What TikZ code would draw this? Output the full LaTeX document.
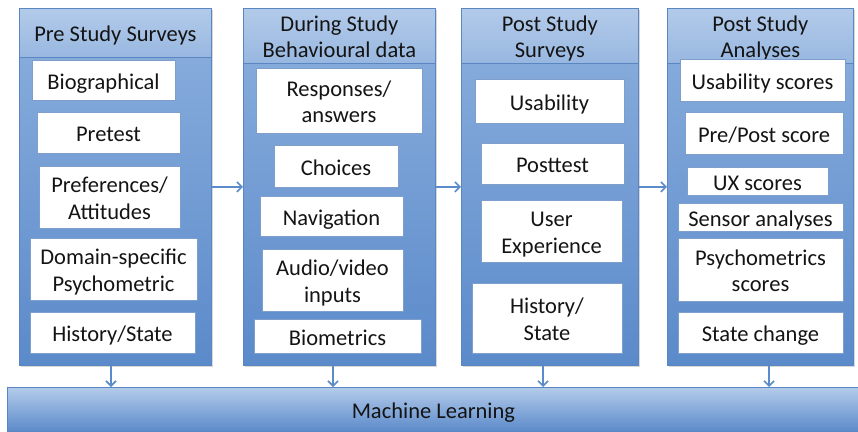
\documentclass[tikz,border=0pt]{standalone}
\usepackage{fontspec}
\setmainfont{Carlito}
\usetikzlibrary{arrows.meta,shadows}
\definecolor{colborder}{HTML}{5A86C2}
\definecolor{bodytop}{HTML}{8CB0DE}
\definecolor{bodybot}{HTML}{5B8ACA}
\definecolor{hdrtop}{HTML}{B3CBEA}
\definecolor{hdrbot}{HTML}{98B7E0}
\definecolor{boxborder}{HTML}{7E9FCB}
\definecolor{arrowcol}{HTML}{5B8BCB}
\definecolor{textcol}{HTML}{141414}
\newcommand\tstrut{\rule{0pt}{23pt}}
\newcommand\bstrut{\rule[-5pt]{0pt}{0pt}}
\begin{document}
\begin{tikzpicture}[x=1pt,y=-1pt,
  column/.style={draw=colborder, line width=0.8pt, top color=bodytop, bottom color=bodybot,
    anchor=north west, inner sep=0pt, minimum height=357,
    drop shadow={opacity=0.3, shadow xshift=1.5pt, shadow yshift=-1.5pt}},
  header/.style={draw=colborder, line width=0.8pt, top color=hdrtop, bottom color=hdrbot,
    anchor=north west, inner sep=0pt, minimum height=49, align=center, text=textcol,
    font=\fontsize{22.5}{26.5}\selectfont},
  ibox/.style={draw=boxborder, fill=white, line width=0.6pt, inner sep=0pt, align=center,
    text=textcol, font=\fontsize{22.5}{26.5}\selectfont,
    drop shadow={opacity=0.25, shadow xshift=1pt, shadow yshift=-1pt}},
  mlbar/.style={draw=colborder, line width=0.8pt, top color=hdrtop, bottom color=bodybot,
    anchor=north west, inner sep=0pt, text=textcol, font=\fontsize{22.5}{26.5}\selectfont},
  arr/.style={draw=arrowcol, line width=1.6pt, -{Straight Barb[length=5pt,width=10pt]}}
]
\useasboundingbox (0,0) rectangle (858,431);
\fill[white] (0,0) rectangle (858,431);

% columns
\node[column, minimum width=192] (c1) at (19,8) {};
\node[column, minimum width=192] (c2) at (243,8) {};
\node[column, minimum width=177] (c3) at (461,8) {};
\node[column, minimum width=186] (c4) at (667,8) {};

% headers
\node[header, minimum width=192] (h1) at (19,8) {\rule[-5pt]{0pt}{27pt}Pre Study Surveys};
\node[header, minimum width=192] (h2) at (243,8) {\tstrut During Study\\Behavioural data\bstrut};
\node[header, minimum width=177] (h3) at (461,8) {\tstrut Post Study\\Surveys\bstrut};
\node[header, minimum width=186] (h4) at (667,8) {\tstrut Post Study\\Analyses\bstrut};

% column 1
\node[ibox, minimum width=143, minimum height=40] (bio) at (103.5,80) {\tstrut Biographical\bstrut};
\node[ibox, minimum width=143, minimum height=41] (pre) at (108.5,132.5) {\tstrut Pretest\bstrut};
\node[ibox, minimum width=141, minimum height=62] (pref) at (109.5,197) {\tstrut Preferences/\\Attitudes\bstrut};
\node[ibox, minimum width=167, minimum height=62] (dom) at (113.5,269) {\tstrut Domain-specific\\Psychometric\bstrut};
\node[ibox, minimum width=165, minimum height=41] (hist) at (112.5,332.5) {\tstrut History/State\bstrut};

% column 2
\node[ibox, minimum width=166, minimum height=65] (resp) at (339,100.5) {\tstrut Responses/\\answers\bstrut};
\node[ibox, minimum width=124, minimum height=42] (choi) at (336,166) {\tstrut Choices\bstrut};
\node[ibox, minimum width=143, minimum height=40] (nav) at (331.5,216) {\tstrut Navigation\bstrut};
\node[ibox, minimum width=141, minimum height=62] (audio) at (332.5,280) {\tstrut Audio/video\\inputs\bstrut};
\node[ibox, minimum width=167, minimum height=34] (biom) at (337.5,336) {\tstrut Biometrics\bstrut};

% column 3
\node[ibox, minimum width=149, minimum height=44] (usab) at (549.5,101) {\tstrut Usability\bstrut};
\node[ibox, minimum width=143, minimum height=41] (post) at (552.5,163.5) {\tstrut Posttest\bstrut};
\node[ibox, minimum width=141, minimum height=62] (ux) at (551.5,231) {\tstrut User\\Experience\bstrut};
\node[ibox, minimum width=150, minimum height=70] (hist2) at (547,318) {\tstrut History/\\State\bstrut};

% column 4
\node[ibox, minimum width=165, minimum height=42] (us) at (762.5,80) {\tstrut Usability scores\bstrut};
\node[ibox, minimum width=158, minimum height=42] (pp) at (764,133) {\tstrut Pre/Post score\bstrut};
\node[ibox, minimum width=141, minimum height=28] (uxs) at (757.5,181) {\tstrut UX scores\bstrut};
\node[ibox, minimum width=165, minimum height=28] (sens) at (760.5,217) {\tstrut Sensor analyses\bstrut};
\node[ibox, minimum width=165, minimum height=63] (psy) at (760.5,269.5) {\tstrut Psychometrics\\scores\bstrut};
\node[ibox, minimum width=165, minimum height=41] (st) at (760.5,332.5) {\tstrut State change\bstrut};

% machine learning bar
\node[mlbar, minimum width=852, minimum height=44] (ml) at (7,387) {\tstrut Machine Learning\bstrut};

% horizontal arrows
\draw[arr] (c1.east) -- (c2.west);
\draw[arr] (c2.east) -- (c3.west);
\draw[arr] (c3.east) -- (c4.west);

% down arrows
\coordinate (a1) at (111,0);
\coordinate (a2) at (333,0);
\coordinate (a3) at (543,0);
\coordinate (a4) at (769,0);
\draw[arr] (c1.south -| a1) -- (ml.north -| a1);
\draw[arr] (c2.south -| a2) -- (ml.north -| a2);
\draw[arr] (c3.south -| a3) -- (ml.north -| a3);
\draw[arr] (c4.south -| a4) -- (ml.north -| a4);
\end{tikzpicture}
\end{document}
